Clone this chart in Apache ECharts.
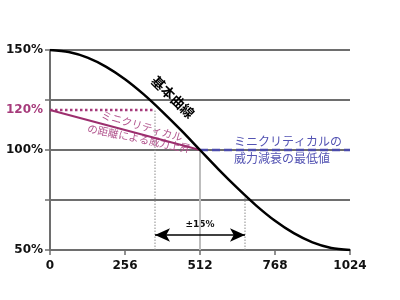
<!DOCTYPE html>
<html><head><meta charset="utf-8">
<script src="https://cdn.jsdelivr.net/npm/echarts@6/dist/echarts.min.js"></script>
<style>html,body{margin:0;padding:0;background:#fff}#c{width:400px;height:300px}</style>
</head><body><div id="c"></div>
<script>
// ---- data ----
const xTicks = [0, 256, 512, 768, 1024];
const yTickLabels = ['50%', '100%', '150%'];
const curveX = [0, 64, 128, 192, 256, 320, 384, 448, 512, 576, 640, 704, 768, 832, 896, 960, 1024];
const curveY = [150, 149.0, 146.2, 141.6, 135.4, 127.8, 119.1, 109.8, 100, 90.2, 80.9, 72.2, 64.6, 58.4, 53.8, 51.0, 50];
const riseX = [0, 512];
const riseY = [120, 100];
const floorX = [512, 1024];
const floorY = [100, 100];
const peakLevel = 120;
const rangeLo = 358.4, rangeHi = 665.6;   // 512 ± 15% of 1024
const rangeLoTop = 120, rangeHiTop = 77.3;
const arrowLevel = 57.5;
const centerX = 512;

const pairs = (xs, ys) => xs.map((x, i) => [x, ys[i]]);
const font = '"DejaVu Sans", sans-serif';
const jp = '"Noto Sans CJK JP", sans-serif';

const chart = echarts.init(document.getElementById('c'), null, {renderer: 'canvas'});
chart.setOption({
  animation: false,
  grid: {left: 50, right: 50, top: 50, bottom: 50},
  xAxis: {
    type: 'value', min: 0, max: 1024, interval: 256,
    axisLine: {show: true, lineStyle: {color: '#6e6e6e', width: 2}},
    axisTick: {show: true, length: 5, lineStyle: {color: '#6e6e6e', width: 1.5}},
    axisLabel: {margin: 10, color: '#111', fontFamily: font, fontWeight: 'bold', fontSize: 12,
      formatter: v => xTicks.indexOf(v) >= 0 ? String(v) : ''},
    splitLine: {show: false}
  },
  yAxis: {
    type: 'value', min: 50, max: 150, interval: 25,
    axisLine: {show: true, lineStyle: {color: '#6e6e6e', width: 2}},
    axisTick: {show: true, length: 5, lineStyle: {color: '#6e6e6e', width: 1.5}},
    axisLabel: {
      margin: 7, color: '#111', fontFamily: font, fontWeight: 'bold', fontSize: 12,
      formatter: v => { const s = v + '%'; return yTickLabels.indexOf(s) >= 0 ? s : ''; }
    },
    splitLine: {show: true, lineStyle: {color: '#6e6e6e', width: 2}}
  },
  series: [
    {type: 'line', data: [[centerX, 50], [centerX, 100]], symbol: 'none', lineStyle: {color: '#bdbdbd', width: 2}, z: 2},
    {type: 'line', data: [[rangeLo, 50], [rangeLo, rangeLoTop]], symbol: 'none', lineStyle: {color: '#8a8a8a', width: 1, type: [1.5, 1.5]}, z: 2},
    {type: 'line', data: [[rangeHi, 50], [rangeHi, rangeHiTop]], symbol: 'none', lineStyle: {color: '#8a8a8a', width: 1, type: [1.5, 1.5]}, z: 2},
    {type: 'line', data: [[0, peakLevel], [rangeLo, peakLevel]], symbol: 'none', lineStyle: {color: '#a63b7b', width: 2.5, type: [2.5, 2.5]}, z: 3},
    {type: 'line', data: pairs(floorX, floorY), symbol: 'none', lineStyle: {color: '#4b4bab', width: 2.5, type: [8, 4]}, z: 3},
    {type: 'line', data: pairs(riseX, riseY), symbol: 'none', lineStyle: {color: '#9c2f6e', width: 2}, z: 4},
    {type: 'line', data: pairs(curveX, curveY), symbol: 'none', smooth: 0.3, lineStyle: {color: '#000', width: 2.5}, z: 5,
     markLine: {
       silent: true, symbol: ['arrow', 'arrow'], symbolSize: [10, 15],
       lineStyle: {color: '#000', width: 1.5, type: 'solid'}, label: {show: false},
       data: [[{coord: [rangeLo, arrowLevel]}, {coord: [rangeHi, arrowLevel]}]]
     }}
  ]
});

const P = (x, y) => chart.convertToPixel({gridIndex: 0}, [x, y]);
const p120 = P(0, peakLevel);
const pArrow = P(centerX, arrowLevel);
chart.setOption({
  graphic: [
    {type: 'text', x: p120[0] - 7, y: p120[1], style: {text: '120%', fill: '#a63b7b', font: 'bold 12px ' + font, align: 'right', verticalAlign: 'middle'}},
    {type: 'text', x: pArrow[0], y: pArrow[1] - 10, style: {text: '±15%', fill: '#111', font: 'bold 9px ' + font, align: 'center', verticalAlign: 'middle'}},
    {type: 'text', x: 173, y: 97, rotation: -0.77, style: {text: '基本曲線', fill: '#000', font: 'bold 13.5px ' + jp, align: 'center', verticalAlign: 'middle'}},
    {type: 'text', x: 142, y: 126, rotation: -0.28, style: {text: 'ミニクリティカル', fill: '#b2558e', font: '10.5px ' + jp, align: 'center', verticalAlign: 'middle'}},
    {type: 'text', x: 139, y: 138.5, rotation: -0.2, style: {text: 'の距離による威力上昇', fill: '#b2558e', font: '10.5px ' + jp, align: 'center', verticalAlign: 'middle'}},
    {type: 'text', x: 234, y: 141, style: {text: 'ミニクリティカルの', fill: '#5353b3', font: '12px ' + jp, align: 'left', verticalAlign: 'middle'}},
    {type: 'text', x: 234, y: 158, style: {text: '威力減衰の最低値', fill: '#5353b3', font: '12px ' + jp, align: 'left', verticalAlign: 'middle'}}
  ]
});
</script></body></html>
